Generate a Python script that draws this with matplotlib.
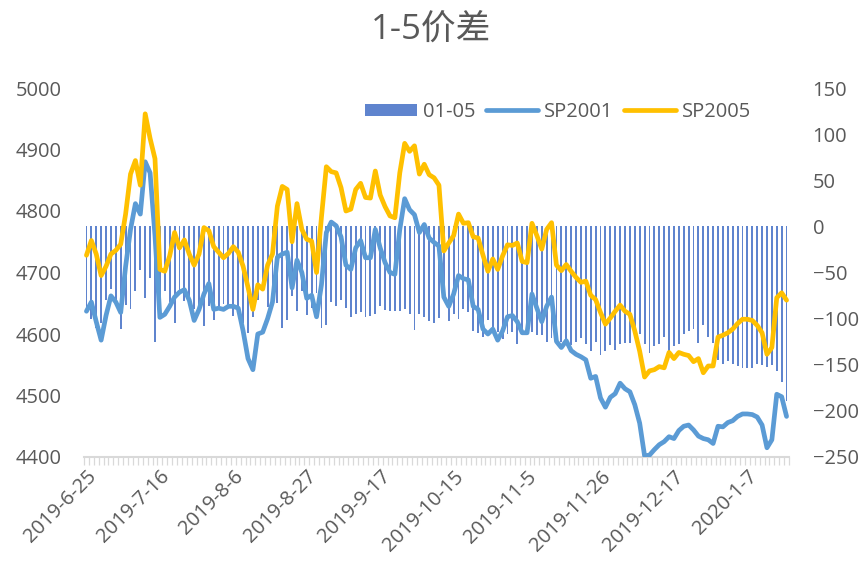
import numpy as np
import pandas as pd
import matplotlib
matplotlib.use("Agg")
from matplotlib import pyplot as plt

plt.rcParams['font.family'] = ['Open Sans', 'Noto Sans CJK SC', 'DejaVu Sans']

# trading days (Oct national holiday removed)
days = pd.bdate_range("2019-06-25", "2020-01-17")
days = days[(days < "2019-10-01") | (days > "2019-10-07")]
labels = [f"{d.year}-{d.month}-{d.day}" for d in days]

sp2001 = [
    4637, 4652, 4620, 4590, 4630, 4662, 4652, 4635, 4710, 4770,
    4812, 4795, 4880, 4862, 4760, 4627, 4632, 4645, 4660, 4668,
    4672, 4655, 4622, 4640, 4665, 4682, 4640, 4642, 4640, 4645,
    4645, 4642, 4605, 4560, 4542, 4600, 4603, 4625, 4652, 4725,
    4730, 4733, 4675, 4720, 4700, 4658, 4663, 4628, 4680, 4765,
    4782, 4776, 4758, 4712, 4705, 4740, 4752, 4724, 4724, 4770,
    4740, 4716, 4700, 4697, 4770, 4820, 4802, 4794, 4765, 4778,
    4756, 4749, 4743, 4660, 4645, 4665, 4695, 4690, 4688, 4645,
    4640, 4608, 4600, 4608, 4590, 4605, 4628, 4630, 4620, 4602,
    4602, 4665, 4642, 4620, 4645, 4660, 4588, 4578, 4589, 4573,
    4567, 4563, 4558, 4528, 4531, 4496, 4481, 4497, 4503, 4520,
    4511, 4506, 4485, 4455, 4402, 4403, 4412, 4420, 4425, 4433,
    4430, 4443, 4450, 4452, 4444, 4434, 4430, 4428, 4422, 4450,
    4449, 4456, 4459, 4466, 4470, 4470, 4469, 4465, 4452, 4415,
    4428, 4502, 4498, 4466,
]

sp2005 = [
    4728, 4752, 4730, 4695, 4710, 4730, 4736, 4746, 4795, 4860,
    4882, 4842, 4958, 4918, 4885, 4705, 4702, 4727, 4765, 4740,
    4753, 4730, 4712, 4730, 4773, 4768, 4742, 4733, 4724, 4731,
    4742, 4733, 4710, 4676, 4640, 4680, 4673, 4712, 4730, 4808,
    4840, 4835, 4750, 4812, 4770, 4754, 4751, 4700, 4790, 4872,
    4864, 4862, 4838, 4800, 4803, 4835, 4845, 4822, 4821, 4865,
    4826, 4807, 4792, 4789, 4862, 4910, 4897, 4906, 4860, 4876,
    4859, 4854, 4842, 4735, 4748, 4760, 4795, 4780, 4781, 4758,
    4756, 4728, 4702, 4722, 4705, 4727, 4745, 4744, 4748, 4718,
    4716, 4780, 4760, 4738, 4770, 4781, 4712, 4703, 4713, 4702,
    4692, 4684, 4686, 4663, 4656, 4635, 4616, 4626, 4637, 4647,
    4637, 4632, 4605, 4572, 4530, 4540, 4542, 4547, 4545, 4570,
    4560, 4570, 4567, 4565, 4555, 4560, 4537, 4548, 4548, 4595,
    4598, 4602, 4608, 4617, 4624, 4624, 4622, 4614, 4602, 4567,
    4578, 4659, 4667, 4655,
]

# 01-05 spread
spread = np.array(sp2001) - np.array(sp2005)

x = np.arange(len(labels))
grey = "#595959"

fig = plt.figure(figsize=(8.59, 5.68), dpi=100)
ax = fig.add_axes([84 / 859, 1 - 457 / 568, 705 / 859, 369 / 568])
ax2 = ax.twinx()

# bars on the right scale, behind the lines
ax.bar(x, spread, width=0.38, color="#5F84CE", label="01-05", zorder=2)
ax.set_ylim(-250, 150)
ax.set_yticks(np.arange(-250, 151, 50))
ax.yaxis.tick_right()

ax2.plot(x, sp2001, color="#5B9BD5", lw=3.4, label="SP2001", solid_capstyle="round")
ax2.plot(x, sp2005, color="#FFC000", lw=3.4, label="SP2005", solid_capstyle="round")
ax2.set_ylim(4400, 5000)
ax2.set_yticks(np.arange(4400, 5001, 100))
ax2.yaxis.tick_left()

ax.set_xlim(-0.5, len(x) - 0.5)
ax.set_xticks(x[::15])
ax.set_xticklabels(labels[::15], rotation=45, ha="right", va="top",
                   rotation_mode="anchor")
ax.set_xticks(np.arange(-0.5, len(x), 1), minor=True)
ax.tick_params(axis="x", which="major", length=0, pad=7, labelsize=14.5, labelcolor=grey)
ax.tick_params(axis="x", which="minor", length=6, width=0.9, color="#d9d9d9", direction="out")
ax.tick_params(axis="y", length=0, pad=17, labelsize=14.5, labelcolor=grey)
ax2.tick_params(axis="y", length=0, pad=16, labelsize=14.5, labelcolor=grey)

for a in (ax, ax2):
    for s in a.spines.values():
        s.set_visible(False)
ax.spines["bottom"].set_visible(True)
ax.spines["bottom"].set_color("#d9d9d9")
ax.spines["bottom"].set_linewidth(1.5)

fig.text(431 / 859, 1 - 30 / 568, "1-5价差", ha="center", va="center",
         fontsize=25, color=grey)

h1, l1 = ax.get_legend_handles_labels()
h2, l2 = ax2.get_legend_handles_labels()
fig.legend(h1 + h2, l1 + l2, loc="center", bbox_to_anchor=(558 / 859, 1 - 112 / 568),
           ncol=3, frameon=False, fontsize=14.5, labelcolor=grey,
           handlelength=2.6, handletextpad=0.3, columnspacing=0.5,
           handleheight=0.6)

plt.savefig("out.png", dpi=100)
plt.close()
